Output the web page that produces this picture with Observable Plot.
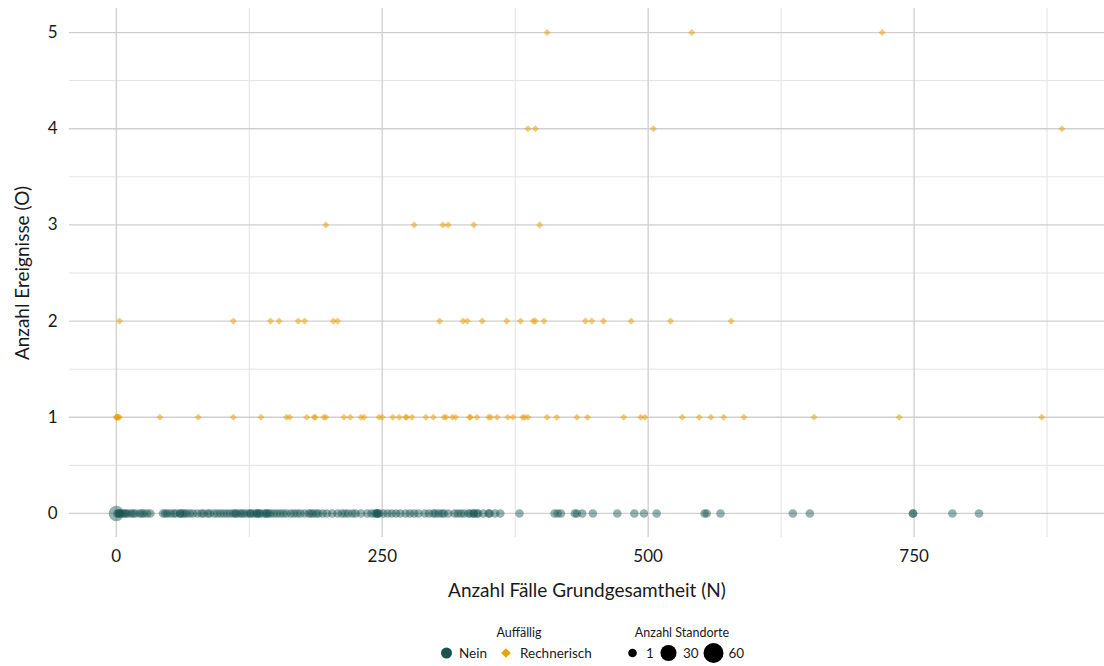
<!DOCTYPE html>
<html>
<head>
<meta charset="utf-8">
<script src="https://cdn.jsdelivr.net/npm/d3@7"></script>
<script src="https://cdn.jsdelivr.net/npm/@observablehq/plot@0.6"></script>
<style>
  body { margin: 0; background: #fff; }
  #chart svg { display: block; }
  #legend { display: block; }
</style>
</head>
<body>
<div id="chart"></div>
<svg id="legend" width="1104" height="56"></svg>
<script>
// ---- Data ----
// Auffällig = "Nein": all have O = 0
const neinN = [0, 1, 2, 3, 4, 6, 8, 9, 11, 14, 16, 18, 22, 24, 26, 29, 32, 44, 46, 48, 51, 54, 56, 60, 60, 62, 64, 66, 69, 72, 76,
  80, 82, 86, 88, 92, 95, 98, 101, 104, 107, 110, 112, 113, 116, 118, 120, 123, 126, 126, 129, 132, 132, 134, 135, 138, 141, 141,
  143, 145, 148, 151, 154, 157, 160, 164, 167, 170, 173, 177, 181, 183, 185, 188, 190, 194, 198, 203, 208, 212, 215, 218, 222,
  225, 230, 236, 240, 243, 245, 245, 246, 247, 251, 255, 259, 263, 267, 272, 276, 280, 284, 290, 294, 298, 300, 303, 306, 308,
  312, 318, 321, 324, 327, 331, 333, 336, 336, 339, 340, 345, 350, 351, 356, 361, 379, 412, 415, 418, 431, 433, 438, 448, 471,
  487, 496, 508, 553, 555, 568, 636, 652, 749, 749, 786, 811];
const neinStandorte = neinN.map((n, i) => (i === 0 ? 25 : 1)); // one large bubble at N = 0
// Auffällig = "Rechnerisch"
const rechO5 = [405, 541, 720];
const rechO4 = [387, 394, 505, 889];
const rechO3 = [197, 280, 307, 312, 336, 398];
const rechO2 = [3, 110, 145, 153, 171, 177, 204, 208, 304, 326, 330, 344, 367, 380, 392, 394, 402, 441, 447, 458, 484, 521, 578];
const rechO1 = [0, 0, 1, 1, 2, 3, 41, 77, 110, 136, 160, 163, 179, 186, 187, 195, 197, 214, 220, 230, 233, 247, 250, 260, 266,
  272, 273, 278, 291, 298, 308, 310, 316, 319, 332, 333, 339, 350, 352, 358, 368, 373, 382, 384, 387, 405, 414, 433, 443, 477,
  493, 497, 532, 548, 559, 571, 590, 656, 736, 870];

const xMajor = [0, 250, 500, 750];
const xMinor = [125, 375, 625, 875];
const yMajor = [0, 1, 2, 3, 4, 5];
const yMinor = [0.5, 1.5, 2.5, 3.5, 4.5];

const xLabel = "Anzahl Fälle Grundgesamtheit (N)";
const yLabel = "Anzahl Ereignisse (O)";
const legendColorTitle = "Auffällig";
const legendColorItems = ["Nein", "Rechnerisch"];
const legendSizeTitle = "Anzahl Standorte";
const legendSizeValues = [1, 30, 60];

const GREEN = "#175450";
const ORANGE = "#e8a20c";
const FONT = "Lato, 'Open Sans', sans-serif";

// ---- tables ----
const nein = neinN.map((n, i) => ({N: n, O: 0, size: neinStandorte[i]}));
const rech = [];
[[1, rechO1], [2, rechO2], [3, rechO3], [4, rechO4], [5, rechO5]].forEach(([o, arr]) => arr.forEach(n => rech.push({N: n, O: o})));

const rScale = {type: "sqrt", domain: [1, 60], range: [4.3, 10]};

const plot = Plot.plot({
  width: 1104,
  height: 610,
  marginLeft: 69,
  marginRight: 0,
  marginTop: 8,
  marginBottom: 73,
  style: {fontFamily: FONT, fontSize: "17px", color: "#1a1a1a", background: "white"},
  x: {domain: [-44, 929]},
  y: {domain: [-0.25, 5.25]},
  r: rScale,
  marks: [
    Plot.ruleX(xMinor, {stroke: "#e3e3e3", strokeWidth: 1}),
    Plot.ruleY(yMinor, {stroke: "#e3e3e3", strokeWidth: 1}),
    Plot.ruleX(xMajor, {stroke: "#cfcfcf", strokeWidth: 1.3}),
    Plot.ruleY(yMajor, {stroke: "#cfcfcf", strokeWidth: 1.3}),
    Plot.axisX(xMajor, {tickSize: 0, tickPadding: 12, fontSize: 17, tickFormat: "d", label: xLabel, labelAnchor: "center", labelArrow: "none", labelOffset: 59}),
    Plot.axisY(yMajor, {tickSize: 0, tickPadding: 12, fontSize: 17, tickFormat: "d", label: yLabel, labelAnchor: "center", labelArrow: "none", labelOffset: 54}),
    Plot.dot(nein, {x: "N", y: "O", r: "size", fill: GREEN, fillOpacity: 0.45, stroke: null}),
    Plot.dot(rech, {x: "N", y: "O", r: 3.2, symbol: "diamond2", fill: ORANGE, fillOpacity: 0.55, stroke: null})
  ]
});
plot.querySelectorAll("g[aria-label='x-axis label'] text, g[aria-label='y-axis label'] text").forEach(t => t.setAttribute("font-size", 19));
document.getElementById("chart").appendChild(plot);

// ---- legend ----
const lg = d3.select("#legend").style("font-family", FONT);
const sizeR = d3.scaleSqrt().domain(rScale.domain).range(rScale.range);
// colour/shape legend
lg.append("text").attr("x", 519).attr("y", 27).attr("text-anchor", "middle").attr("font-size", 12.5).attr("fill", "#1a1a1a").text(legendColorTitle);
lg.append("circle").attr("cx", 446.5).attr("cy", 43).attr("r", 5.5).attr("fill", GREEN);
lg.append("text").attr("x", 459).attr("y", 47.5).attr("font-size", 13.5).attr("fill", "#1a1a1a").text(legendColorItems[0]);
lg.append("path").attr("transform", "translate(506,43)").attr("d", d3.symbol(d3.symbolDiamond2, 60)()).attr("fill", ORANGE);
lg.append("text").attr("x", 520).attr("y", 47.5).attr("font-size", 13.5).attr("fill", "#1a1a1a").text(legendColorItems[1]);
// size legend
lg.append("text").attr("x", 682).attr("y", 27).attr("text-anchor", "middle").attr("font-size", 12.5).attr("fill", "#1a1a1a").text(legendSizeTitle);
const sizeX = [632.5, 668.5, 713.5];
const labelX = [646, 683, 728.5];
legendSizeValues.forEach((v, i) => {
  lg.append("circle").attr("cx", sizeX[i]).attr("cy", 43).attr("r", sizeR(v)).attr("fill", "#000");
  lg.append("text").attr("x", labelX[i]).attr("y", 47.5).attr("font-size", 13.5).attr("fill", "#1a1a1a").text(v);
});
</script>
</body>
</html>
